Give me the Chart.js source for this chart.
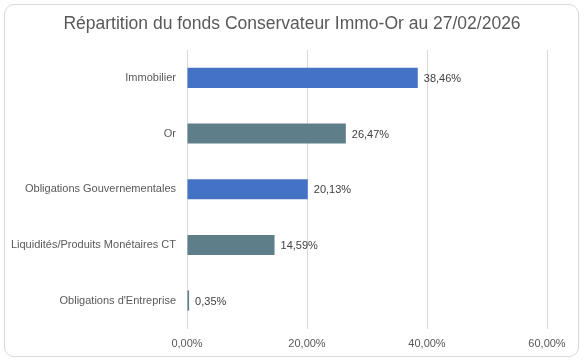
<!DOCTYPE html>
<html>
<head>
<meta charset="utf-8">
<script src="https://cdn.jsdelivr.net/npm/chart.js@4/dist/chart.umd.min.js"></script>
<style>
    html, body { margin: 0; padding: 0; background: #ffffff; }
    #wrap { position: relative; width: 587px; height: 363px; }
    #frame {
        position: absolute; left: 4px; top: 4px; width: 573px; height: 351px;
        border: 1px solid #d9d9d9; border-radius: 10px; box-sizing: content-box;
    }
    canvas { position: absolute; left: 0; top: 0; }
</style>
</head>
<body>
<div id="wrap">
    <div id="frame"></div>
    <canvas id="chart" width="587" height="363"></canvas>
</div>
<script>
const categories = [
    'Immobilier',
    'Or',
    'Obligations Gouvernementales',
    'Liquidités/Produits Monétaires CT',
    "Obligations d'Entreprise"
];
const shares = [38.46, 26.47, 20.13, 14.59, 0.35];
const barColors = ['#4472c4', '#5e7f89', '#4472c4', '#5e7f89', '#5e7f89'];
const xTicks = [0, 20, 40, 60];

const FONT = 'Liberation Sans';

function fmtPct(v) {
    return v.toFixed(2).replace('.', ',') + '%';
}

// value labels to the right of each bar
const valueLabels = {
    id: 'valueLabels',
    afterDatasetsDraw(chart) {
        const ctx = chart.ctx;
        const meta = chart.getDatasetMeta(0);
        ctx.save();
        ctx.font = '11px "' + FONT + '"';
        ctx.fillStyle = '#404040';
        ctx.textAlign = 'left';
        ctx.textBaseline = 'middle';
        meta.data.forEach((bar, i) => {
            ctx.fillText(fmtPct(shares[i]), bar.x + 6, bar.y + 1);
        });
        ctx.restore();
    }
};

const config = {
    type: 'bar',
    data: {
        labels: categories,
        datasets: [{
            data: shares,
            backgroundColor: barColors,
            borderWidth: 0,
            categoryPercentage: 1,
            barPercentage: 0.36
        }]
    },
    options: {
        indexAxis: 'y',
        responsive: false,
        animation: false,
        layout: { padding: { left: 10, right: 13, top: 5, bottom: 0 } },
        plugins: {
            legend: { display: false },
            tooltip: { enabled: false },
            title: {
                display: true,
                text: 'Répartition du fonds Conservateur Immo-Or au 27/02/2026',
                color: '#595959',
                font: { family: FONT, size: 17.5, weight: 'normal' },
                padding: { top: 9, bottom: 15 }
            }
        },
        scales: {
            x: {
                min: 0,
                max: 60,
                afterBuildTicks: (scale) => {
                    scale.ticks = xTicks.map(v => ({ value: v }));
                },
                afterFit: (scale) => { scale.height = 34.5; },
                grid: { color: '#d9d9d9', drawTicks: false },
                border: { display: false },
                ticks: {
                    padding: 9,
                    color: '#595959',
                    font: { family: FONT, size: 11 },
                    callback: (v) => fmtPct(v)
                }
            },
            y: {
                afterFit: (scale) => { scale.width = 177; },
                grid: { display: false, drawTicks: false },
                border: { display: false },
                ticks: {
                    padding: 11,
                    color: '#595959',
                    font: { family: FONT, size: 11 }
                }
            },
            // empty right-hand axis, only reserves space so the title stays centred
            spacer: {
                axis: 'y',
                position: 'right',
                afterFit: (scale) => { scale.width = 27; },
                grid: { display: false, drawTicks: false },
                border: { display: false },
                ticks: { display: false }
            }
        }
    },
    plugins: [valueLabels]
};

new Chart(document.getElementById('chart'), config);
</script>
</body>
</html>
